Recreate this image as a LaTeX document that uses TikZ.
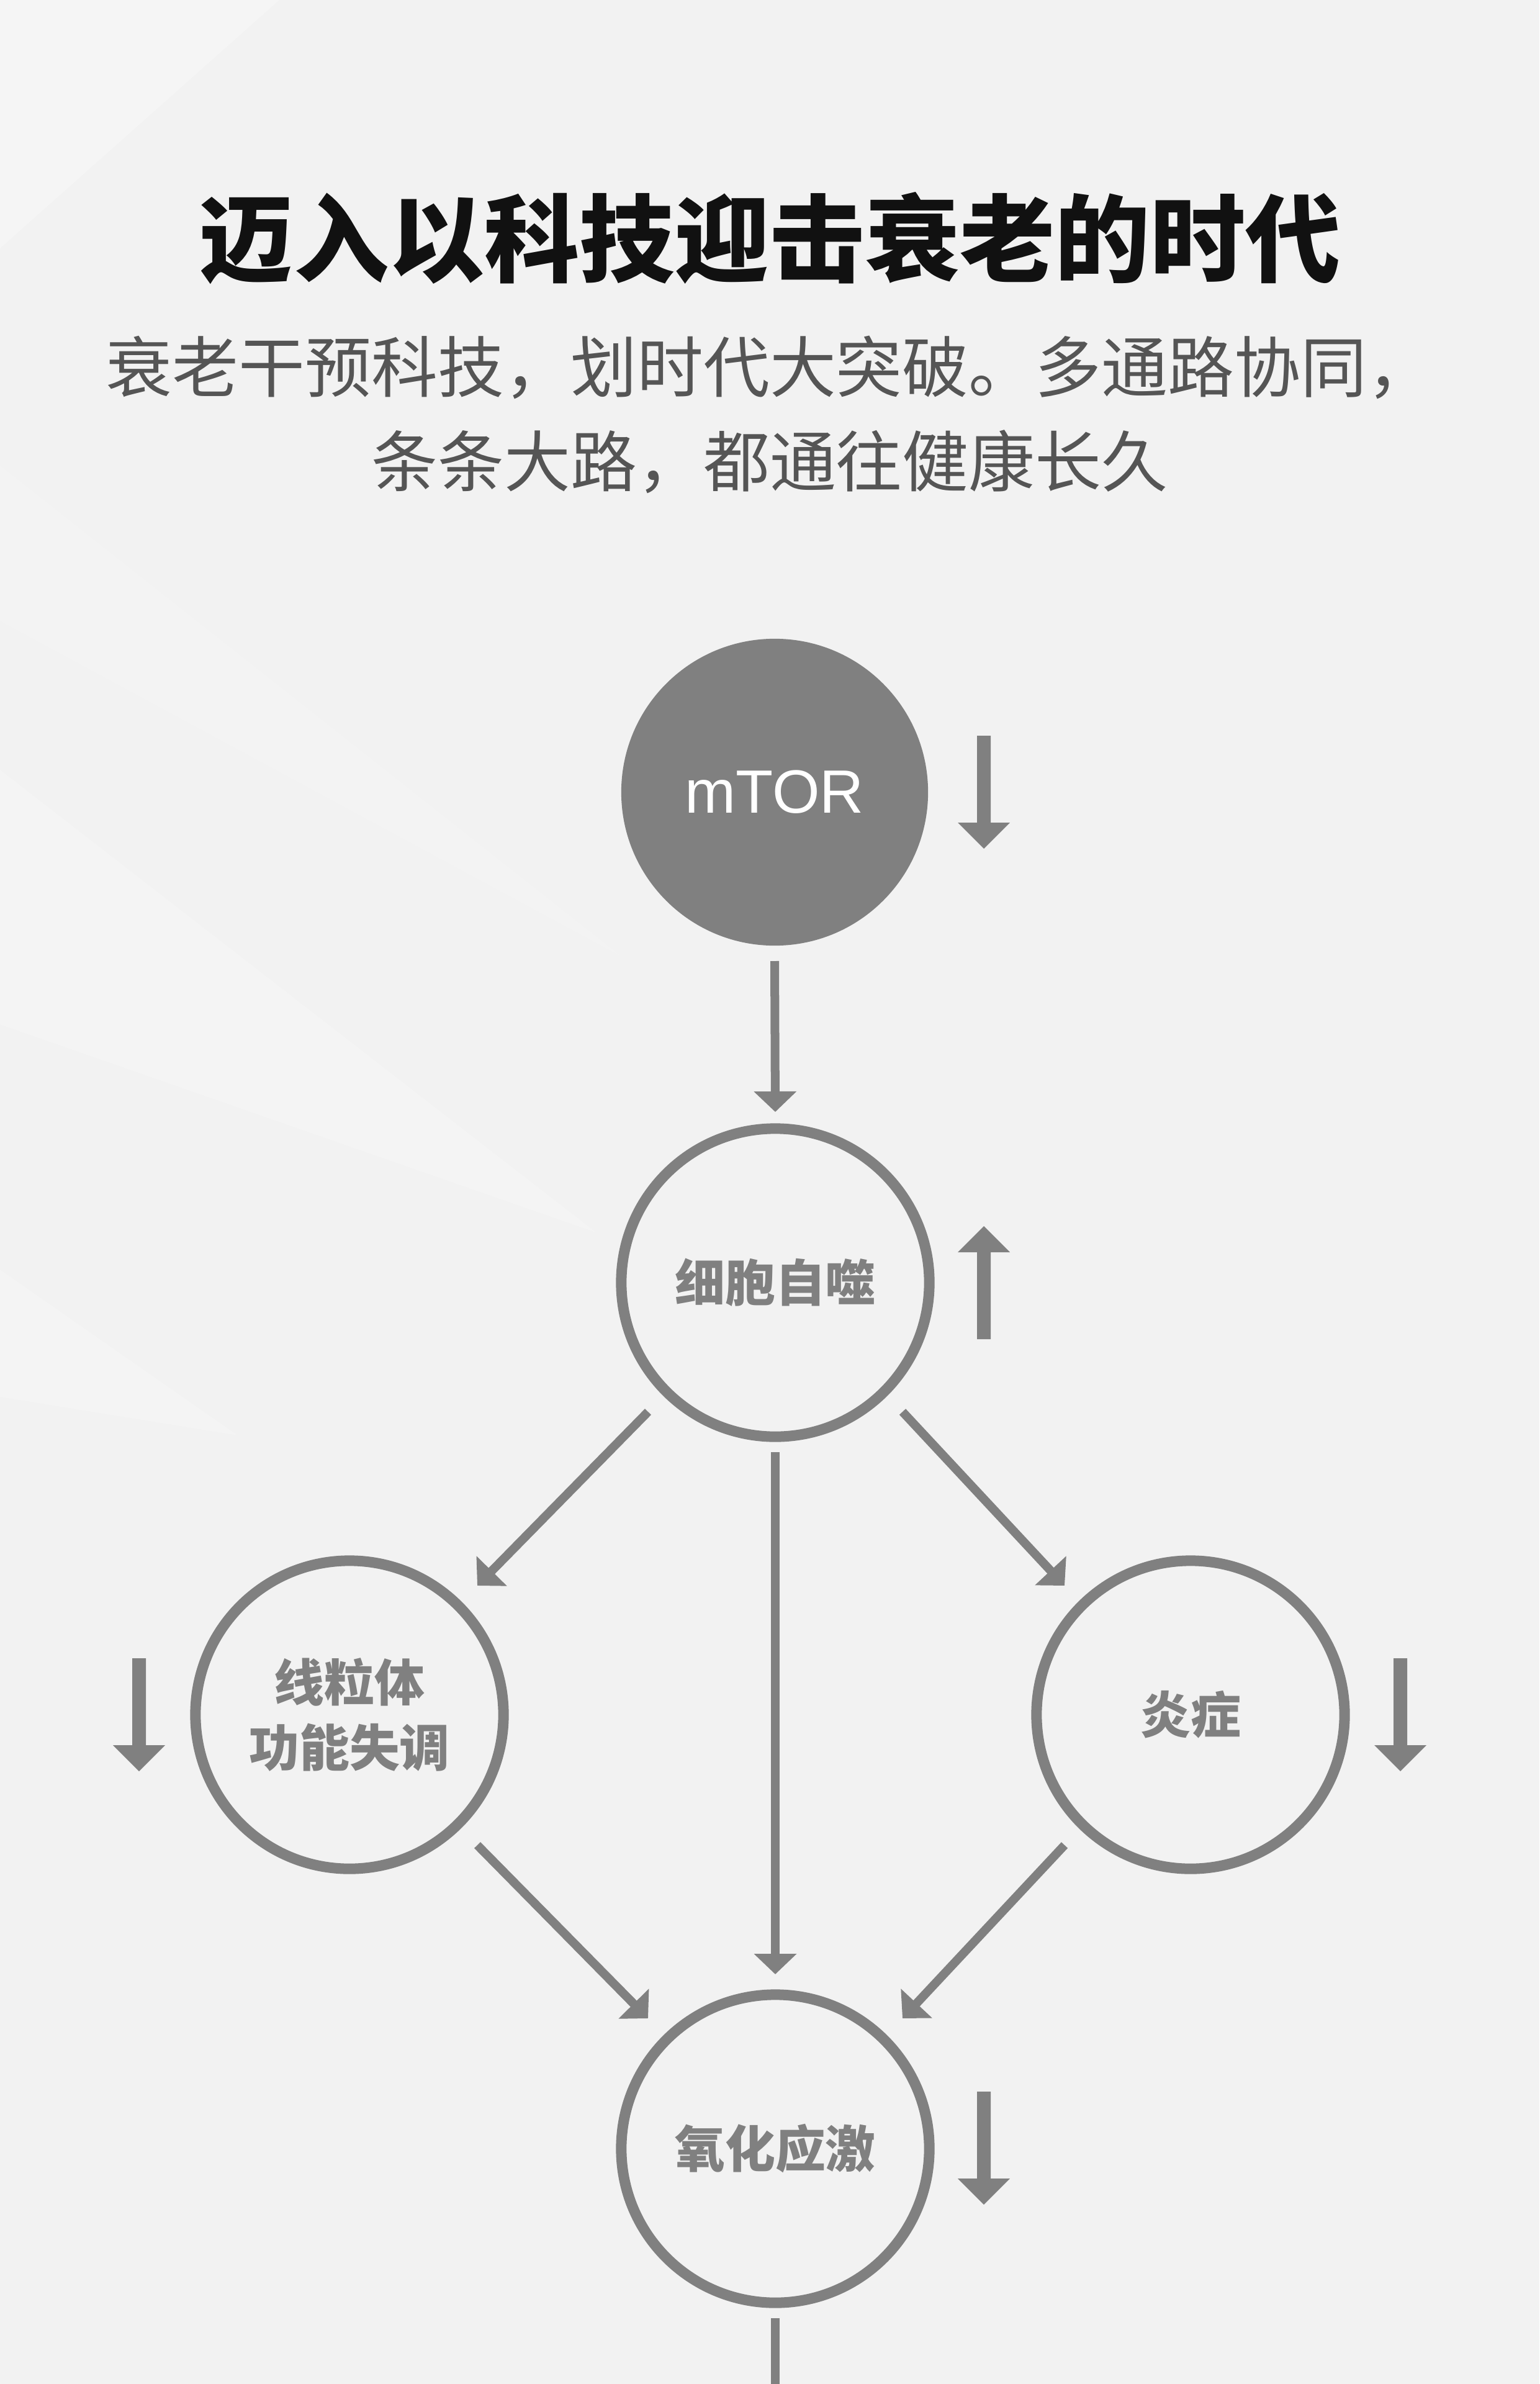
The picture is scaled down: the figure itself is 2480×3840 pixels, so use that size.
\documentclass[tikz,border=0pt]{standalone}
\usepackage{fontspec}
\setmainfont{Liberation Sans}
\newfontfamily\cjk{Noto Sans CJK SC}
\usetikzlibrary{arrows.meta,calc}
\definecolor{bg}{HTML}{F2F2F2}
\definecolor{gr}{HTML}{808080}
\definecolor{subc}{HTML}{555555}
\definecolor{ttl}{HTML}{111111}
\tikzset{
  ring/.style={circle, draw=gr, line width=0.17cm, minimum size=4.96cm, inner sep=0pt, outer sep=0pt,
    text=gr, align=center, font=\cjk\bfseries\fontsize{23pt}{29.9pt}\selectfont},
  conn/.style={draw=gr, line width=0.14cm, -{Triangle[length=0.33cm,width=0.67cm]}},
  plainline/.style={draw=gr, line width=0.14cm},
  streak/.style={fill=white},
  downind/.pic={\fill[gr] (-11,-91) -- (11,-91) -- (11,49) -- (42,49) -- (0,91) -- (-42,49) -- (-11,49) -- cycle;},
  upind/.pic={\fill[gr] (-11,91) -- (11,91) -- (11,-49) -- (42,-49) -- (0,-91) -- (-42,-49) -- (-11,-49) -- cycle;},
}
\begin{document}
\begin{tikzpicture}[x=0.01cm,y=-0.01cm]
\fill[bg] (0,0) rectangle (2480,3840);
\useasboundingbox (0,0) rectangle (2480,3840);
% faint light streaks
\fill[streak,opacity=0.25] (0,0) -- (450,0) -- (0,400) -- cycle;
\fill[streak,opacity=0.12] (0,750) -- (1000,1540) -- (0,1000) -- cycle;
\fill[streak,opacity=0.2] (0,1240) -- (960,1985) -- (0,1650) -- cycle;
\fill[streak,opacity=0.17] (0,2045) -- (383,2312) -- (0,2250) -- cycle;

% title and subtitle
\node[font=\cjk\bfseries\fontsize{43.6pt}{46pt}\selectfont, text=ttl, inner sep=0pt] (title) at (1240,384) {迈入以科技迎击衰老的时代};
\node[font=\cjk\fontsize{30.4pt}{43.2pt}\selectfont, text=subc, align=center, inner sep=0pt] (sub) at (1240,668)
  {衰老干预科技，划时代大突破。多通路协同，\\条条大路，都通往健康长久};

% nodes
\node[circle, fill=gr, minimum size=4.94cm, inner sep=0pt, outer sep=0pt, text=white,
  font=\fontsize{28pt}{33pt}\selectfont] (mtor) at (1248,1276) {mTOR};
\node[ring] (n2) at (1249,2066) {细胞自噬};
\node[ring] (n3) at (563,2762) {线粒体\\功能失调};
\node[ring] (n4) at (1918,2762) {炎症};
\node[ring] (n5) at (1249,3461) {氧化应激};
\coordinate (bend) at (1249,3840);

% indicator arrows
\pic at (1585,1276) {downind};
\pic at (1585,2066) {upind};
\pic at (224,2762) {downind};
\pic at (2256,2762) {downind};
\pic at (1585,3460) {downind};

% connectors
\draw[conn] ($(mtor)+(0,272)$) -- ($(n2)+(0,-275)$);
\draw[conn] ($(n2)+(0,273)$) -- ($(n5)+(0,-281)$);
\draw[conn] ($(n2)+(-205,208)$) -- ($(n3)+(206,-208)$);
\draw[conn] ($(n2)+(205,208)$) -- ($(n4)+(-203,-208)$);
\draw[conn] ($(n3)+(206,210)$) -- ($(n5)+(-205,-210)$);
\draw[conn] ($(n4)+(-203,210)$) -- ($(n5)+(205,-210)$);
\draw[plainline] ($(n5)+(0,273)$) -- (bend);
\end{tikzpicture}
\end{document}
